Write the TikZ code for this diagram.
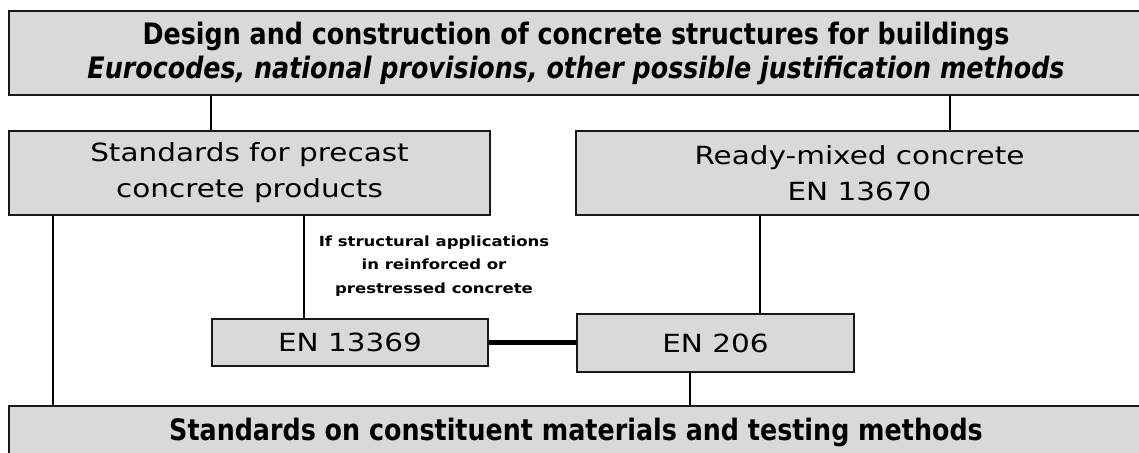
\documentclass[tikz,border=0pt]{standalone}
\usepackage{fontspec}
\setmainfont{DejaVu Sans}
\newfontfamily\titlefont[FakeStretch=0.86]{DejaVu Sans}
\newfontfamily\midfont[FakeStretch=1.18]{DejaVu Sans}
\usepackage{tikz}
\usetikzlibrary{positioning}
\tikzstyle{bx}=[rectangle,draw=black!90,line width=2.5pt,fill=gray!30,inner sep=0pt,align=center]
\tikzstyle{ln}=[line width=2pt]
\tikzstyle{big}=[font=\titlefont\bfseries\fontsize{29.5}{34}\selectfont]
\tikzstyle{mid}=[font=\midfont\fontsize{25}{36}\selectfont]

\begin{document}
\begin{tikzpicture}[x=1pt,y=-1pt]
\useasboundingbox (0,0) rectangle (1139,452);
\clip (0,0) rectangle (1139,452);

%top box
\node[bx,big,minimum width=1134pt,minimum height=84pt] (design) at (576,53)
  {Design and construction of concrete structures for buildings\\
   \itshape Eurocodes, national provisions, other possible justification methods};

%middle boxes
\node[bx,mid,minimum width=481pt,minimum height=84pt] (precast) at (249.5,173)
  {Standards for precast\\ concrete products};
\node[bx,mid,minimum width=567pt,minimum height=84pt] (ready) at (859.5,173)
  {Ready-mixed concrete\\ EN 13670};

%EN boxes
\node[bx,mid,minimum width=276pt,minimum height=47pt] (en13369) at (350,342.5) {EN 13369};
\node[bx,mid,minimum width=277pt,minimum height=58pt] (en206) at (715.5,343) {EN 206};

%bottom box
\node[bx,big,minimum width=1134pt,minimum height=52pt] (materials) at (576,432)
  {Standards on constituent materials and testing methods};

%condition label
\node[align=center,font=\midfont\bfseries\fontsize{14}{23.5}\selectfont] (cond) at (434,266)
  {If structural applications\\ in reinforced or\\ prestressed concrete};

%connectors
\coordinate (xa) at (950,0);
\coordinate (xb) at (53,0);
\coordinate (xc) at (304,0);
\coordinate (xd) at (760,0);
\coordinate (xe) at (690,0);
\draw[ln] (design.south -| en13369.west) -- (precast.north -| en13369.west);
\draw[ln] (design.south -| xa) -- (ready.north -| xa);
\draw[ln] (precast.south -| xb) -- (materials.north -| xb);
\draw[ln] (precast.south -| xc) -- (en13369.north -| xc);
\draw[ln] (ready.south -| xd) -- (en206.north -| xd);
\draw[ln] (en206.south -| xe) -- (materials.north -| xe);
\draw[line width=5pt] (en13369.east) -- (en13369.east -| en206.west);

\end{tikzpicture}
\end{document}
